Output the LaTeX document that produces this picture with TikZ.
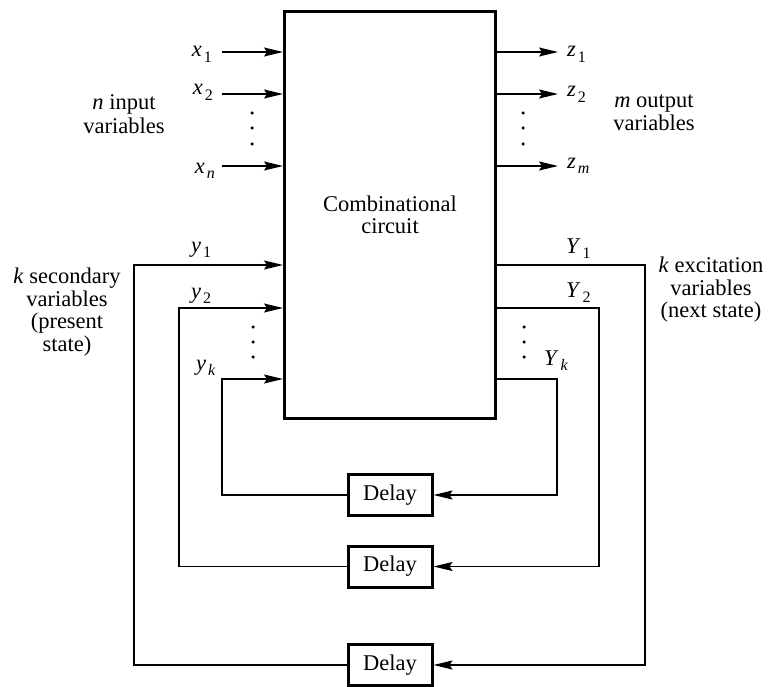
\documentclass[tikz,border=0pt]{standalone}
\usepackage{fontspec}
\setmainfont{Liberation Serif}
\usetikzlibrary{arrows.meta}
\newcommand{\vsub}[2]{\textit{#1}\kern2pt\raisebox{-5.5pt}{\fontsize{16}{16}\selectfont #2}}
\begin{document}
\begin{tikzpicture}[x=1pt,y=-1pt,
  font=\fontsize{22.5}{22.5}\selectfont,
  wire/.style={line width=1.4pt},
  arr/.style={wire,-{Stealth[length=19pt,width=9pt,inset=3pt]}},
  box/.style={draw,line width=3pt,inner sep=0pt},
  dlbox/.style={box,minimum width=84pt,minimum height=41pt},
  lbl/.style={inner sep=0pt},
  vdot/.style={circle,fill,inner sep=0pt,minimum size=3.5pt}]
\useasboundingbox (0,0) rectangle (770,687);

% main box
\node[box,minimum width=211pt,minimum height=407pt,align=center] (cc) at (390,215) {Combinational\\circuit};

% delay boxes
\node[dlbox] (d1) at (390,495) {Delay};
\node[dlbox] (d2) at (390,566.5) {Delay};
\node[dlbox] (d3) at (390,665) {Delay};

% inputs
\coordinate (xa) at (222,52);
\coordinate (xb) at (222,94);
\coordinate (xc) at (222,166);
\draw[arr] (xa) -- (xa -| cc.west);
\draw[arr] (xb) -- (xb -| cc.west);
\draw[arr] (xc) -- (xc -| cc.west);
\node[lbl,anchor=base east] (lx1) at (212,57) {\vsub{x}{1}};
\node[lbl,anchor=base east] (lx2) at (213,95) {\vsub{x}{2}};
\node[lbl,anchor=base east] (lxn) at (215,173) {\vsub{x}{\textit{n}}};
\node[vdot] (ia) at (252,113) {};
\node[vdot] (ib) at (252,128) {};
\node[vdot] (ic) at (252,144) {};
\node[lbl,align=center] (nin) at (124,114) {\textit{n} input\\[2pt]variables};

% outputs
\coordinate (za) at (558,52);
\coordinate (zb) at (558,94);
\coordinate (zc) at (558,166);
\draw[arr] (za -| cc.east) -- (za);
\draw[arr] (zb -| cc.east) -- (zb);
\draw[arr] (zc -| cc.east) -- (zc);
\node[lbl,anchor=base west] (lz1) at (567,57) {\vsub{z}{1}};
\node[lbl,anchor=base west] (lz2) at (567,97) {\vsub{z}{2}};
\node[lbl,anchor=base west] (lzm) at (567,168) {\vsub{z}{\textit{m}}};
\node[vdot] (oa) at (523,113) {};
\node[vdot] (ob) at (523,128) {};
\node[vdot] (oc) at (523,144) {};
\node[lbl,align=center] (mout) at (654,113) {\textit{m} output\\variables};

% feedback loops
\coordinate (Ya) at (645,265);
\coordinate (Yb) at (599,308);
\coordinate (Yc) at (557,379);
\coordinate (ya) at (134,265);
\coordinate (yb) at (179,308);
\coordinate (yc) at (222,379);
\draw[arr] (Ya -| cc.east) -- (Ya) |- (d3.east);
\draw[arr] (Yb -| cc.east) -- (Yb) |- (d2.east);
\draw[arr] (Yc -| cc.east) -- (Yc) |- (d1.east);
\draw[arr] (d3.west) -| (ya) -- (ya -| cc.west);
\draw[arr] (d2.west) -| (yb) -- (yb -| cc.west);
\draw[arr] (d1.west) -| (yc) -- (yc -| cc.west);

\node[lbl,anchor=base west] (ly1) at (191,252) {\vsub{y}{1}};
\node[lbl,anchor=base west] (ly2) at (191,298) {\vsub{y}{2}};
\node[lbl,anchor=base west] (lyk) at (196,370) {\vsub{y}{\textit{k}}};
\node[lbl,anchor=base west] (lY1) at (566,253) {\vsub{Y}{1}};
\node[lbl,anchor=base west] (lY2) at (566,297) {\vsub{Y}{2}};
\node[lbl,anchor=base west] (lYk) at (544,365) {\vsub{Y}{\textit{k}}};

\node[vdot] (la) at (253,327) {};
\node[vdot] (lb) at (253,342) {};
\node[vdot] (lc) at (253,357) {};
\node[vdot] (ra) at (524,327) {};
\node[vdot] (rb) at (524,342) {};
\node[vdot] (rc) at (524,357) {};

\node[lbl,align=center] (ksec) at (67,312) {\textit{k} secondary\\variables\\(present\\state)};
\node[lbl,align=center] (kexc) at (711,290) {\textit{k} excitation\\variables\\(next state)};
\end{tikzpicture}
\end{document}
